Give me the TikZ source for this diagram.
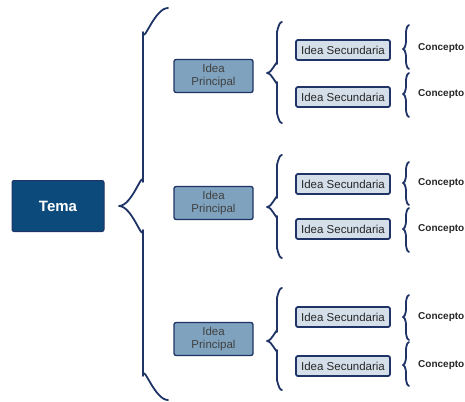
\documentclass[tikz,border=0pt]{standalone}
\usepackage{fontspec}
\setmainfont{Liberation Sans}
\usetikzlibrary{positioning}
\definecolor{azulmarino}{HTML}{1F3366}
\definecolor{azultema}{HTML}{0C4A7B}
\definecolor{azulidea}{HTML}{7FA3BE}
\definecolor{azulsec}{HTML}{D4DFEA}
% llave: x ends, x stem, x tip, y top, y tip, y bottom, curve length
\newcommand{\llave}[7]{%
  \draw[llave] (#1,#4) to[out=180,in=90] (#2,#4+#7) -- (#2,#5-#7)
    to[out=-90,in=0] (#3,#5) to[out=0,in=90] (#2,#5+#7) -- (#2,#6-#7)
    to[out=-90,in=180] (#1,#6);}
\begin{document}
\begin{tikzpicture}[x=1pt,y=1pt,yscale=-1]
  \useasboundingbox (0,0) rectangle (465,401);
  \tikzstyle{llave} = [azulmarino, line width=1.8pt, line cap=round, line join=round]
  \tikzstyle{tema} = [draw=azulmarino, fill=azultema, rounded corners=2pt, line width=1pt,
    minimum width=92pt, minimum height=51pt, text=white, font=\fontsize{15}{17}\selectfont\bfseries]
  \tikzstyle{principal} = [draw=azulmarino, fill=azulidea, rounded corners=2pt, line width=1.3pt,
    minimum width=79pt, minimum height=33pt, inner sep=0pt, align=center, text=black!75,
    font=\fontsize{11.5}{13.5}\selectfont]
  \tikzstyle{secundaria} = [draw=azulmarino, fill=azulsec, rounded corners=2pt, line width=1.8pt,
    minimum width=94pt, minimum height=20pt, inner sep=0pt, text=black!85,
    font=\fontsize{11.5}{13}\selectfont]
  \tikzstyle{concepto} = [anchor=west, inner sep=0pt, text=black!85,
    font=\fontsize{10}{12}\selectfont\bfseries]
  %Draw the main topic
  \node[tema] (tema) at (58,206) {Tema};
  \llave{168}{143}{119}{8}{206}{400}{24}
  %Draw the main ideas
  \node[principal] (ip1) at (213.5,76) {Idea\\Principal};
  \node[principal] (ip2) at (213.5,203) {Idea\\Principal};
  \node[principal] (ip3) at (213.5,339) {Idea\\Principal};
  \llave{282}{277}{267}{22}{73}{123}{9}
  \llave{282}{277}{267}{155}{207}{258}{9}
  \llave{282}{277}{267}{288}{341}{390}{9}
  %Draw the secondary ideas
  \node[secundaria] (is1) at (343,50) {Idea Secundaria};
  \node[secundaria] (is2) at (343,97) {Idea Secundaria};
  \node[secundaria] (is3) at (343,184) {Idea Secundaria};
  \node[secundaria] (is4) at (343,229) {Idea Secundaria};
  \node[secundaria] (is5) at (343,317) {Idea Secundaria};
  \node[secundaria] (is6) at (343,366) {Idea Secundaria};
  %Draw the small braces
  \llave{409}{406}{403}{25}{49}{69}{6}
  \llave{409}{406}{403}{73}{94}{117}{6}
  \llave{409}{406}{403}{162}{183}{205}{6}
  \llave{409}{406}{403}{208}{229}{252}{6}
  \llave{409}{406}{403}{295}{317}{340}{6}
  \llave{409}{406}{403}{342}{365}{386}{6}
  % Label the concepts
  \node[concepto] (c1) at (418,48) {Concepto};
  \node[concepto] (c2) at (418,94) {Concepto};
  \node[concepto] (c3) at (418,183) {Concepto};
  \node[concepto] (c4) at (418,229) {Concepto};
  \node[concepto] (c5) at (418,317) {Concepto};
  \node[concepto] (c6) at (418,365) {Concepto};
\end{tikzpicture}
\end{document}
